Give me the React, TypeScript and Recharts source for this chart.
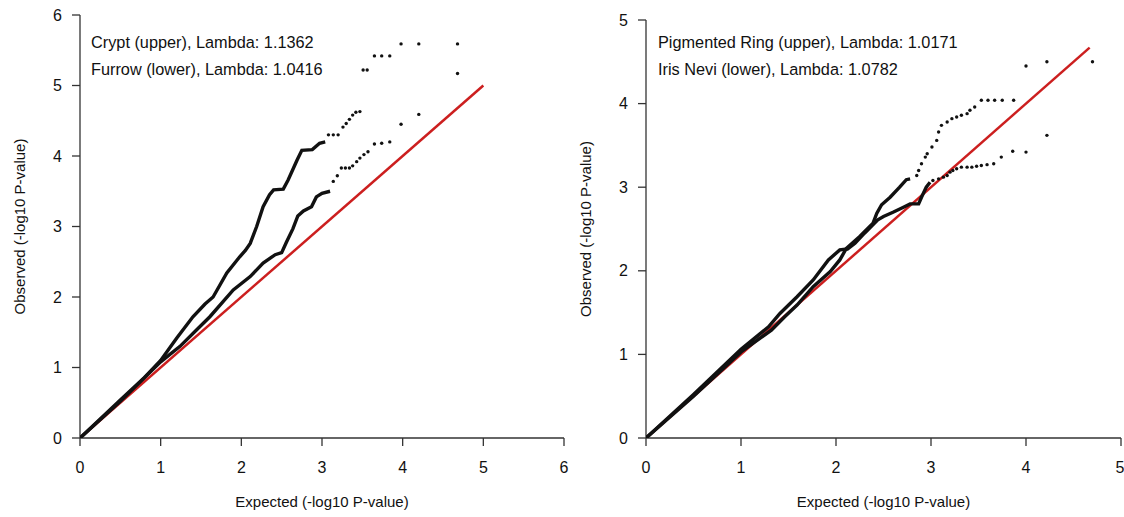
import { ScatterChart, Scatter, XAxis, YAxis } from "recharts";

// Left panel: Crypt (upper) and Furrow (lower), [expected, observed]
const cryptBulk = [
  [0, 0], [0.5, 0.54], [0.8, 0.86], [1.0, 1.1], [1.2, 1.42], [1.4, 1.72], [1.55, 1.9], [1.65, 2.0],
  [1.82, 2.34], [1.98, 2.57], [2.05, 2.66], [2.11, 2.76], [2.19, 3.0], [2.27, 3.28], [2.35, 3.45],
  [2.4, 3.52], [2.52, 3.53], [2.58, 3.66], [2.69, 3.94], [2.75, 4.08], [2.88, 4.09], [2.97, 4.18], [3.04, 4.2],
];
const cryptTail = [
  [3.08, 4.3], [3.14, 4.3], [3.2, 4.3], [3.26, 4.41], [3.3, 4.46], [3.34, 4.52], [3.38, 4.58], [3.42, 4.62],
  [3.47, 4.63], [3.51, 5.22], [3.56, 5.22], [3.65, 5.42], [3.74, 5.42], [3.84, 5.42], [3.98, 5.59],
  [4.2, 5.59], [4.68, 5.59],
];
const furrowBulk = [
  [0, 0], [0.5, 0.52], [1.0, 1.08], [1.24, 1.3], [1.45, 1.54], [1.61, 1.72], [1.9, 2.1], [2.11, 2.29],
  [2.27, 2.48], [2.42, 2.6], [2.5, 2.63], [2.56, 2.78], [2.64, 2.97], [2.7, 3.15], [2.77, 3.22],
  [2.87, 3.28], [2.93, 3.42], [3.0, 3.47], [3.1, 3.5],
];
const furrowTail = [
  [3.14, 3.64], [3.19, 3.72], [3.24, 3.83], [3.29, 3.83], [3.34, 3.83], [3.38, 3.86], [3.43, 3.92],
  [3.47, 3.97], [3.52, 4.02], [3.57, 4.06], [3.65, 4.17], [3.74, 4.18], [3.84, 4.2], [3.98, 4.45],
  [4.2, 4.59], [4.68, 5.17],
];
const leftDiag = [[0, 0], [5, 5]];
const leftTicks = [0, 1, 2, 3, 4, 5, 6];

// Right panel: Pigmented Ring (upper) and Iris Nevi (lower)
const ringBulk = [
  [0, 0], [0.5, 0.5], [1.0, 1.03], [1.32, 1.29], [1.46, 1.45], [1.59, 1.59], [1.76, 1.81], [1.94, 1.99],
  [2.04, 2.13], [2.11, 2.27], [2.25, 2.41], [2.39, 2.57], [2.43, 2.69], [2.48, 2.79], [2.57, 2.88],
  [2.67, 3.0], [2.74, 3.09], [2.78, 3.1],
];
const ringTail = [
  [2.85, 3.14], [2.87, 3.2], [2.9, 3.28], [2.94, 3.36], [2.96, 3.4], [3.01, 3.48], [3.06, 3.56],
  [3.08, 3.66], [3.11, 3.74], [3.17, 3.78], [3.22, 3.82], [3.27, 3.84], [3.32, 3.86], [3.38, 3.88],
  [3.41, 3.92], [3.46, 3.96], [3.53, 4.04], [3.6, 4.04], [3.67, 4.04], [3.75, 4.04], [3.87, 4.04],
  [4.0, 4.45], [4.22, 4.5], [4.7, 4.5],
];
const neviBulk = [
  [0, 0], [0.5, 0.52], [1.0, 1.06], [1.29, 1.33], [1.41, 1.49], [1.59, 1.69], [1.76, 1.89], [1.92, 2.13],
  [2.04, 2.25], [2.12, 2.26], [2.2, 2.33], [2.3, 2.45], [2.44, 2.61], [2.5, 2.65], [2.6, 2.7],
  [2.71, 2.76], [2.78, 2.8], [2.87, 2.8], [2.9, 2.88], [2.95, 3.0], [2.99, 3.06],
];
const neviTail = [
  [3.02, 3.08], [3.08, 3.1], [3.13, 3.12], [3.17, 3.14], [3.2, 3.18], [3.23, 3.2], [3.27, 3.22],
  [3.32, 3.24], [3.38, 3.24], [3.43, 3.24], [3.48, 3.25], [3.53, 3.26], [3.59, 3.27], [3.66, 3.28],
  [3.74, 3.36], [3.86, 3.43], [4.0, 3.42], [4.22, 3.62],
];
const rightDiag = [[0, 0], [4.67, 4.67]];
const rightTicks = [0, 1, 2, 3, 4, 5];

const toPts = (arr: number[][]) => arr.map(([x, y]) => ({ x, y }));

const FONT = "'Liberation Sans', Arial, sans-serif";
const RED = "#cc1f1f";
const INK = "#111";

const dot = (r: number) => (p: any) => <circle cx={p.cx} cy={p.cy} r={r} fill={INK} />;
const none = () => <g />;

type PanelProps = {
  left: number;
  width: number;
  top: number;
  right: number;
  max: number;
  ticks: number[];
  diag: number[][];
  upperBulk: number[][];
  upperTail: number[][];
  lowerBulk: number[][];
  lowerTail: number[][];
  labels: string[];
  labelX: number;
};

function Panel(p: PanelProps) {
  const axisLine = { stroke: "#333", strokeWidth: 1.3 };
  const tick = { fontSize: 16, fill: "#111", fontFamily: FONT };
  return (
    <div style={{ position: "absolute", left: p.left, top: 0, width: p.width, height: 517 }}>
      <ScatterChart width={p.width} height={517} margin={{ top: p.top, right: p.right, bottom: 0, left: 0 }}>
        <XAxis
          type="number" dataKey="x" domain={[0, p.max]} ticks={p.ticks} allowDataOverflow
          height={79} tickSize={8} tickMargin={16} axisLine={axisLine} tickLine={axisLine} tick={tick}
          label={{ value: "Expected (-log10 P-value)", position: "insideBottom", offset: 10, style: { fontSize: 15, fill: "#111", fontFamily: FONT } }}
        />
        <YAxis
          type="number" dataKey="y" domain={[0, p.max]} ticks={p.ticks} allowDataOverflow
          width={80} tickSize={8} tickMargin={10} axisLine={axisLine} tickLine={axisLine} tick={tick}
          label={{ value: "Observed (-log10 P-value)", angle: -90, position: "insideLeft", offset: 20, style: { fontSize: 15, fill: "#111", fontFamily: FONT, textAnchor: "middle" } }}
        />
        <Scatter data={toPts(p.diag)} line={{ stroke: RED, strokeWidth: 2.5 }} shape={none} isAnimationActive={false} />
        <Scatter data={toPts(p.lowerBulk)} line={{ stroke: INK, strokeWidth: 3.4 }} shape={none} isAnimationActive={false} />
        <Scatter data={toPts(p.upperBulk)} line={{ stroke: INK, strokeWidth: 3.4 }} shape={none} isAnimationActive={false} />
        <Scatter data={toPts(p.lowerTail)} shape={dot(1.7)} isAnimationActive={false} />
        <Scatter data={toPts(p.upperTail)} shape={dot(1.7)} isAnimationActive={false} />
      </ScatterChart>
      {p.labels.map((t, i) => (
        <div
          key={t}
          style={{
            position: "absolute", left: p.labelX, top: 32 + i * 27, fontFamily: FONT, fontSize: 16.3,
            color: "#111", whiteSpace: "nowrap", lineHeight: "20px",
          }}
        >
          {t}
        </div>
      ))}
    </div>
  );
}

export default function App() {
  return (
    <div style={{ position: "absolute", left: 0, top: 0, width: 1124, height: 517, background: "#fff", overflow: "hidden" }}>
      <Panel
        left={0} width={570} top={15} right={6} max={6} ticks={leftTicks} diag={leftDiag}
        upperBulk={cryptBulk} upperTail={cryptTail} lowerBulk={furrowBulk} lowerTail={furrowTail}
        labels={["Crypt (upper), Lambda: 1.1362", "Furrow (lower), Lambda: 1.0416"]} labelX={91}
      />
      <Panel
        left={566} width={558} top={20} right={3} max={5} ticks={rightTicks} diag={rightDiag}
        upperBulk={ringBulk} upperTail={ringTail} lowerBulk={neviBulk} lowerTail={neviTail}
        labels={["Pigmented Ring (upper), Lambda: 1.0171", "Iris Nevi (lower), Lambda: 1.0782"]} labelX={92}
      />
    </div>
  );
}
